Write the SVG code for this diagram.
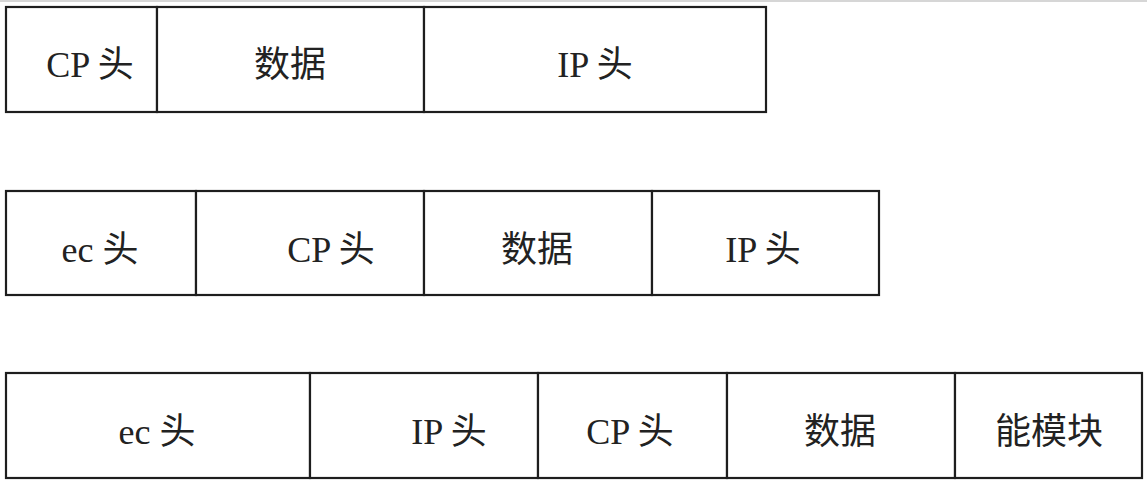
<svg xmlns="http://www.w3.org/2000/svg" width="1147" height="480" viewBox="0 0 1147 480">
<style>
.box{fill:#fff;stroke:#1e1e1e;stroke-width:2.2}
.t{font-family:"Liberation Serif","Noto Sans CJK SC",serif;font-size:36px;fill:#222;text-anchor:middle}
</style>
<rect width="1147" height="480" fill="#fff"/>
<line x1="0" y1="1" x2="1147" y2="1" stroke="#c8c8c8" stroke-width="1.5"/>
<g id="row1">
<g id="r1c1"><rect class="box" x="6" y="7" width="151" height="105"/><text class="t" x="90" y="77">CP 头</text></g>
<g id="r1c2"><rect class="box" x="157" y="7" width="267" height="105"/><text class="t" x="290" y="77">数据</text></g>
<g id="r1c3"><rect class="box" x="424" y="7" width="342" height="105"/><text class="t" x="595" y="77">IP 头</text></g>
</g>
<g id="row2">
<g id="r2c1"><rect class="box" x="6" y="191" width="190" height="104"/><text class="t" x="100" y="262">ec 头</text></g>
<g id="r2c2"><rect class="box" x="196" y="191" width="228" height="104"/><text class="t" x="331" y="262">CP 头</text></g>
<g id="r2c3"><rect class="box" x="424" y="191" width="228" height="104"/><text class="t" x="537" y="262">数据</text></g>
<g id="r2c4"><rect class="box" x="652" y="191" width="227" height="104"/><text class="t" x="763" y="262">IP 头</text></g>
</g>
<g id="row3">
<g id="r3c1"><rect class="box" x="6" y="373" width="304" height="105"/><text class="t" x="157" y="444">ec 头</text></g>
<g id="r3c2"><rect class="box" x="310" y="373" width="228" height="105"/><text class="t" x="449" y="444">IP 头</text></g>
<g id="r3c3"><rect class="box" x="538" y="373" width="189" height="105"/><text class="t" x="630" y="444">CP 头</text></g>
<g id="r3c4"><rect class="box" x="727" y="373" width="228" height="105"/><text class="t" x="840" y="444">数据</text></g>
<g id="r3c5"><rect class="box" x="955" y="373" width="187" height="105"/><text class="t" x="1049" y="444">能模块</text></g>
</g>
<g id="connectors"/>
</svg>
